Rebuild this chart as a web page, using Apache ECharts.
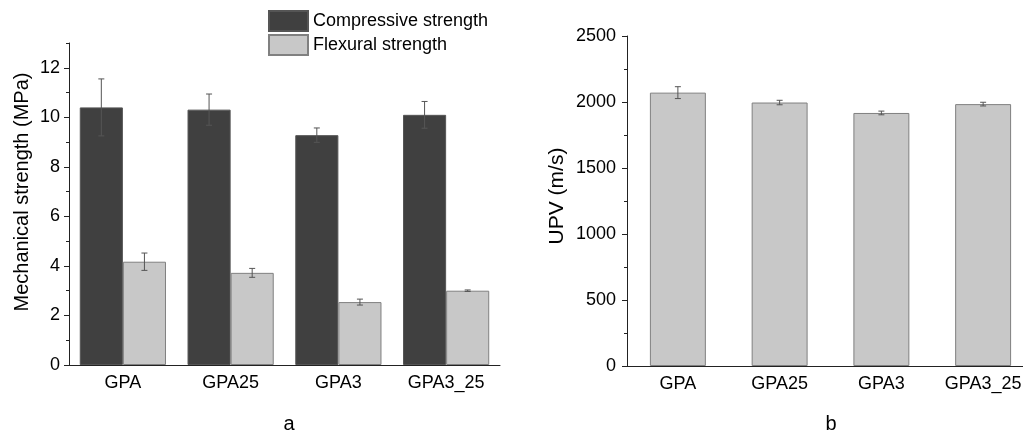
<!DOCTYPE html>
<html><head><meta charset="utf-8">
<script src="https://cdn.jsdelivr.net/npm/echarts@6/dist/echarts.min.js"></script>
<style>html,body{margin:0;padding:0;background:#fff;overflow:hidden;width:1023px;height:433px}#c{width:1040px;height:433px}</style>
</head><body><div id="c"></div>
<script>
const categories = ['GPA', 'GPA25', 'GPA3', 'GPA3_25'];
const compressive = [10.4, 10.31, 9.28, 10.1];
const compressiveErr = [1.15, 0.63, 0.29, 0.54];
const flexural = [4.17, 3.72, 2.54, 3.0];
const flexuralErr = [0.35, 0.18, 0.12, 0.03];
const upv = [2071, 1996, 1917, 1984];
const upvErr = [45, 17, 14, 14];
const leftMajorTicks = [0, 2, 4, 6, 8, 10, 12];
const leftMinorTicks = [1, 3, 5, 7, 9, 11, 13];

const FONT = 'Liberation Sans, Arial, sans-serif';
const AX = '#222';

function errSeries(xi, yi, vals, errs, side, frac, color) {
  return {
    type: 'custom', xAxisIndex: xi, yAxisIndex: yi, z: 10, silent: true,
    data: vals.map((v, i) => [i, v, errs[i]]),
    renderItem: function (params, api) {
      const i = api.value(0), v = api.value(1), e = api.value(2);
      const band = api.size([1, 0])[0];
      const bw = band * frac;
      const cx = api.coord([i, v])[0] + side * bw / 2;
      const yTop = api.coord([i, v + e])[1];
      const yBot = api.coord([i, v - e])[1];
      const cap = 3;
      const st = { stroke: color, lineWidth: 1 };
      return { type: 'group', children: [
        { type: 'line', shape: { x1: cx, y1: yTop, x2: cx, y2: yBot }, style: st },
        { type: 'line', shape: { x1: cx - cap, y1: yTop, x2: cx + cap, y2: yTop }, style: st },
        { type: 'line', shape: { x1: cx - cap, y1: yBot, x2: cx + cap, y2: yBot }, style: st }
      ]};
    }
  };
}

const chart = echarts.init(document.getElementById('c'), null, { renderer: 'canvas' });
const xBase = (gi, fs) => ({
  type: 'category', gridIndex: gi, data: categories, boundaryGap: true,
  axisLine: { lineStyle: { color: AX, width: 1 } },
  axisTick: { alignWithLabel: true, length: 5, lineStyle: { color: AX } },
  axisLabel: { color: '#000', fontSize: fs, fontFamily: FONT, margin: 9, interval: 0, hideOverlap: false },
  splitLine: { show: false }
});
const xMinor = (gi) => ({
  type: 'category', gridIndex: gi, data: categories, boundaryGap: true,
  axisLine: { show: false },
  axisTick: { length: 3, interval: 0, lineStyle: { color: AX } },
  axisLabel: { show: false }, splitLine: { show: false }
});

chart.setOption({
  animation: false,
  textStyle: { fontFamily: FONT },
  grid: [
    { left: 69, top: 43, width: 431, height: 322 },
    { left: 627, top: 36, width: 407, height: 330 }
  ],
  legend: {
    orient: 'vertical', left: 268, top: 10, padding: 0, itemWidth: 39, itemHeight: 20, itemGap: 2,
    icon: 'rect', data: ['Compressive strength', 'Flexural strength'],
    textStyle: { fontSize: 18, color: '#000', fontFamily: FONT }
  },
  xAxis: [xBase(0, 18), xMinor(0), xBase(1, 18), xMinor(1)],
  yAxis: [
    { type: 'value', gridIndex: 0, min: 0, max: 13,
      axisLine: { show: true, lineStyle: { color: AX } },
      axisTick: { show: true, length: 5, customValues: leftMajorTicks, lineStyle: { color: AX } },
      axisLabel: { customValues: leftMajorTicks, color: '#000', fontSize: 18, fontFamily: FONT, margin: 9 },
      splitLine: { show: false } },
    { type: 'value', gridIndex: 0, min: 0, max: 13, position: 'left',
      axisLine: { show: false },
      axisTick: { show: true, length: 3, customValues: leftMinorTicks, lineStyle: { color: AX } },
      axisLabel: { show: false }, splitLine: { show: false } },
    { type: 'value', gridIndex: 1, min: 0, max: 2500, interval: 500,
      axisLine: { show: true, lineStyle: { color: AX } },
      axisTick: { show: true, length: 5, lineStyle: { color: AX } },
      minorTick: { show: true, splitNumber: 2, length: 3, lineStyle: { color: AX } },
      axisLabel: { color: '#000', fontSize: 18, fontFamily: FONT, margin: 11,
        formatter: (v) => String(v) },
      splitLine: { show: false } }
  ],
  series: [
    { name: 'Compressive strength', type: 'bar', xAxisIndex: 0, yAxisIndex: 0,
      data: compressive, barGap: 0, barCategoryGap: '20%',
      itemStyle: { color: '#404040', borderColor: '#555555', borderWidth: 1 } },
    { name: 'Flexural strength', type: 'bar', xAxisIndex: 0, yAxisIndex: 0,
      data: flexural, barGap: 0, barCategoryGap: '20%',
      itemStyle: { color: '#c8c8c8', borderColor: '#808080', borderWidth: 1 } },
    errSeries(0, 0, compressive, compressiveErr, -1, 0.4, '#555'),
    errSeries(0, 0, flexural, flexuralErr, 1, 0.4, '#555'),
    { name: 'UPV', type: 'bar', xAxisIndex: 2, yAxisIndex: 2,
      data: upv, barCategoryGap: '45%',
      itemStyle: { color: '#c8c8c8', borderColor: '#808080', borderWidth: 1 } },
    errSeries(2, 2, upv, upvErr, 0, 0, '#555')
  ],
  graphic: [
    { type: 'text', x: 22, y: 192, rotation: Math.PI / 2,
      style: { text: 'Mechanical strength (MPa)', fontSize: 20, fontFamily: FONT, fill: '#000', align: 'center', verticalAlign: 'middle' } },
    { type: 'text', x: 557, y: 196, rotation: Math.PI / 2,
      style: { text: 'UPV (m/s)', fontSize: 21, fontFamily: FONT, fill: '#000', align: 'center', verticalAlign: 'middle' } },
    { type: 'text', x: 289, y: 424,
      style: { text: 'a', fontSize: 20, fontFamily: FONT, fill: '#000', align: 'center', verticalAlign: 'middle' } },
    { type: 'text', x: 831, y: 424,
      style: { text: 'b', fontSize: 20, fontFamily: FONT, fill: '#000', align: 'center', verticalAlign: 'middle' } }
  ]
});
</script>
</body></html>
